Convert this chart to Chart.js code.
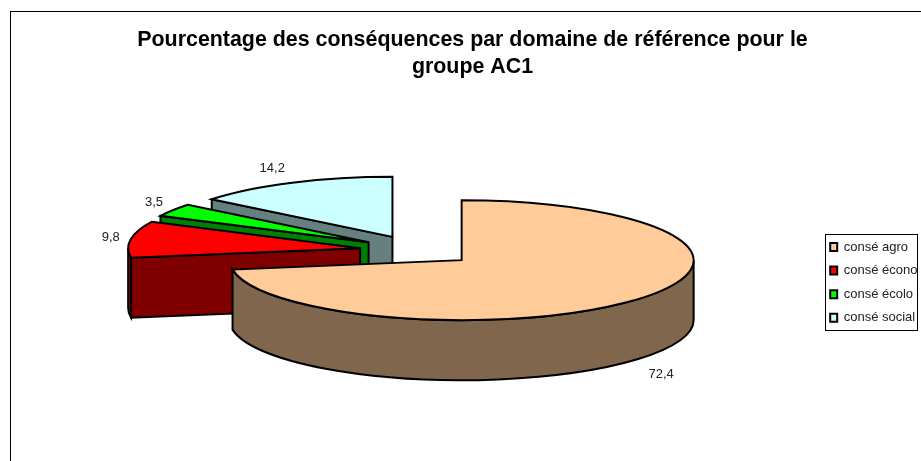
<!DOCTYPE html>
<html>
<head>
<meta charset="utf-8">
<title>Pourcentage des conséquences</title>
<script src="https://cdn.jsdelivr.net/npm/chart.js@4/dist/chart.umd.js"></script>
<style>
	html, body { margin: 0; padding: 0; background: #fff; }
	canvas { display: block; }
</style>
</head>
<body>
<canvas id="canvasConsequences" width="921" height="461"></canvas>
<script>
var titleLines = ['Pourcentage des conséquences par domaine de référence pour le', 'groupe AC1'];
var categories = ['consé agro', 'consé écono', 'consé écolo', 'consé social'];
var values = [72.4, 9.8, 3.5, 14.2];
var topColors = ['#FFCC99', '#FF0000', '#00FF00', '#CCFFFF'];
var sideColors = ['#80664D', '#800000', '#008000', '#668080'];

/***********************************************************************************************
 * 3D pie look : the arcs keep the geometry computed by Chart.js, only the painting changes
 ***********************************************************************************************/
var SQUASH = 60 / 232;
var DEPTH = 60;
var EXPLODE = 0.25;

function rimPoint(c, angle) {
	return { x: c.x + Math.cos(angle) * c.r, y: c.y + Math.sin(angle) * c.r * SQUASH };
}

function paint(ctx, fill) {
	ctx.fillStyle = fill;
	ctx.fill();
	ctx.stroke();
}

function sliceFrame(arc) {
	var mid = (arc.startAngle + arc.endAngle) / 2;
	var r = arc.outerRadius;
	return {
		x: arc.x + Math.cos(mid) * r * EXPLODE,
		y: arc.y + Math.sin(mid) * r * EXPLODE * SQUASH,
		r: r,
		mid: mid
	};
}

function drawRadialWall(ctx, c, angle, fill) {
	var p = rimPoint(c, angle);
	ctx.beginPath();
	ctx.moveTo(c.x, c.y);
	ctx.lineTo(p.x, p.y);
	ctx.lineTo(p.x, p.y + DEPTH);
	ctx.lineTo(c.x, c.y + DEPTH);
	ctx.closePath();
	paint(ctx, fill);
}

function drawOuterWall(ctx, c, start, end, fill) {
	var from = Math.max(start, 0);
	var to = Math.min(end, Math.PI);
	if (to <= from) {
		return;
	}
	ctx.beginPath();
	ctx.ellipse(c.x, c.y, c.r, c.r * SQUASH, 0, from, to);
	ctx.ellipse(c.x, c.y + DEPTH, c.r, c.r * SQUASH, 0, to, from, true);
	ctx.closePath();
	paint(ctx, fill);
}

var pie3d = {
	id: 'pie3d',
	afterLayout: function(chart) {
		// le titre et la légende ne suivent pas le centre du camembert
		var title = chart.titleBlock;
		title.left += 55;
		title.right += 55;
		var legend = chart.legend;
		legend.left = 819.6;
		legend.right = 921;
		legend.top = 229.9;
		legend.bottom = 340;
	},
	beforeDraw: function(chart) {
		var ctx = chart.ctx;
		ctx.save();
		ctx.strokeStyle = '#000';
		ctx.lineWidth = 1;
		ctx.strokeRect(10.5, 11.5, 1000, 1000);
		ctx.strokeRect(825.5, 234.5, 92, 96);
		ctx.restore();
	},
	beforeDatasetsDraw: function(chart, args, opts) {
		var ctx = chart.ctx;
		var arcs = chart.getDatasetMeta(0).data;
		ctx.save();
		ctx.strokeStyle = '#000';
		ctx.lineWidth = 2;
		for (var i = arcs.length - 1; i >= 0; i--) {
			var arc = arcs[i];
			var c = sliceFrame(arc);
			// only the cut faces turned towards the viewer are painted
			if (Math.cos(arc.startAngle) < -1e-6) {
				drawRadialWall(ctx, c, arc.startAngle, sideColors[i]);
			}
			if (Math.cos(arc.endAngle) > 1e-6) {
				drawRadialWall(ctx, c, arc.endAngle, sideColors[i]);
			}
			drawOuterWall(ctx, c, arc.startAngle, arc.endAngle, sideColors[i]);
			ctx.beginPath();
			ctx.moveTo(c.x, c.y);
			ctx.ellipse(c.x, c.y, c.r, c.r * SQUASH, 0, arc.startAngle, arc.endAngle);
			ctx.closePath();
			paint(ctx, arc.options.backgroundColor);
		}
		ctx.fillStyle = '#222';
		ctx.font = '13px "Liberation Sans"';
		ctx.textAlign = 'center';
		ctx.textBaseline = 'middle';
		for (var j = 0; j < arcs.length; j++) {
			var f = sliceFrame(arcs[j]);
			var rim = rimPoint(f, f.mid);
			var text = String(values[j]).replace('.', ',');
			ctx.fillText(text, rim.x + opts.labelShift[j][0], rim.y + opts.labelShift[j][1]);
		}
		ctx.restore();
		return false;
	}
};

Chart.defaults.font.family = '"Liberation Sans"';
Chart.defaults.color = '#000';

var config = new Chart(document.getElementById('canvasConsequences'), {
	type: 'pie',
	data: {
		labels: categories,
		datasets: [{
			data: values,
			backgroundColor: topColors,
			borderColor: '#000',
			borderWidth: 2,
			radius: 232
		}]
	},
	options: {
		responsive: false,
		animation: false,
		layout: {
			padding: { left: 0, right: 86, top: 0, bottom: 41.2 }
		},
		plugins: {
			title: {
				display: true,
				text: titleLines,
				color: '#000',
				font: { size: 21.4, weight: 'bold', lineHeight: 27 / 21.4 },
				padding: { top: 27, bottom: 0 }
			},
			legend: {
				position: 'chartArea',
				align: 'start',
				labels: {
					color: '#222',
					boxWidth: 7,
					boxHeight: 8,
					padding: 10.6,
					font: { size: 13 }
				}
			},
			tooltip: { enabled: false },
			pie3d: {
				labelShift: [[23, 75], [-20, -2], [-19, -8], [-20, -14]]
			}
		}
	},
	plugins: [pie3d]
});
</script>
</body>
</html>
